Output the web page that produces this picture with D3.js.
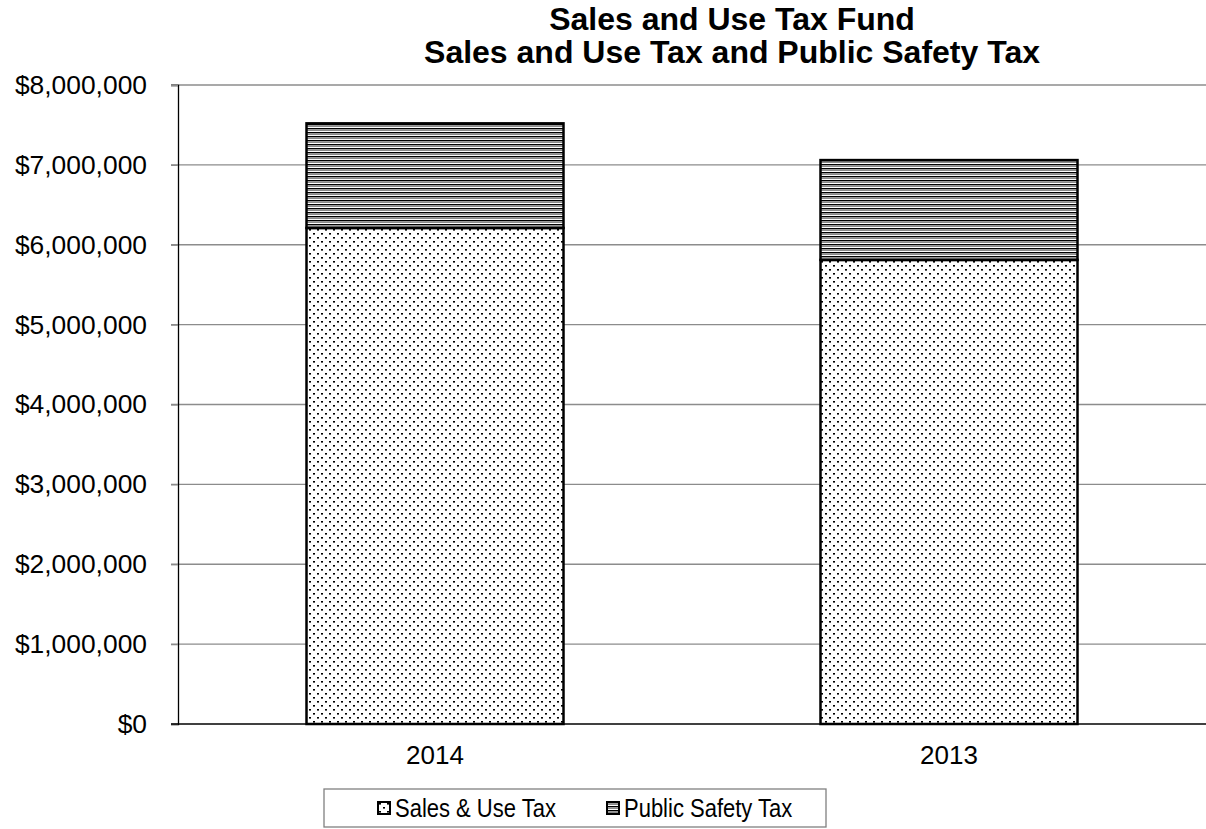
<!DOCTYPE html>
<html>
<head>
<meta charset="utf-8">
<script src="https://cdn.jsdelivr.net/npm/d3@7"></script>
<style>
  html, body { margin: 0; padding: 0; background: #fff; }
  svg { display: block; font-family: "Liberation Sans", Arial, sans-serif; }
</style>
</head>
<body>
<svg id="chart" width="1206" height="829"></svg>
<script>
// Fiscal years and revenue by source (dollars)
const years = ["2014", "2013"];
const salesUseTax = [6210000, 5810000];
const publicSafetyTax = [1310000, 1250000];
const seriesNames = ["Sales & Use Tax", "Public Safety Tax"];
const yTicks = [0, 1000000, 2000000, 3000000, 4000000, 5000000, 6000000, 7000000, 8000000];
const titleLines = ["Sales and Use Tax Fund", "Sales and Use Tax and Public Safety Tax"];

const svg = d3.select("#chart");
const W = 1206, H = 829;
const m = { left: 178, right: 0, top: 85, bottom: 105 };
const FONT = "Liberation Sans, Arial, sans-serif";

// Fill patterns: dotted for sales tax, horizontal rules for public safety tax
const defs = svg.append("defs");
const dots = defs.append("pattern").attr("id", "pat-dots")
  .attr("patternUnits", "userSpaceOnUse").attr("width", 8).attr("height", 8);
dots.append("rect").attr("width", 8).attr("height", 8).attr("fill", "#fff");
dots.append("rect").attr("x", 1).attr("y", 1).attr("width", 2).attr("height", 1.6).attr("fill", "#000");
dots.append("rect").attr("x", 5).attr("y", 5).attr("width", 2).attr("height", 1.6).attr("fill", "#000");

const lines = defs.append("pattern").attr("id", "pat-lines")
  .attr("patternUnits", "userSpaceOnUse").attr("width", 8).attr("height", 4);
lines.append("rect").attr("width", 8).attr("height", 4).attr("fill", "#fff");
lines.append("rect").attr("y", 0).attr("width", 8).attr("height", 1.4).attr("fill", "#000");
lines.append("rect").attr("y", 2).attr("width", 8).attr("height", 1).attr("fill", "#8a8a8a");

const fills = ["url(#pat-dots)", "url(#pat-lines)"];

const x = d3.scaleBand().domain(years).range([m.left, W - m.right])
  .paddingInner(0.5).paddingOuter(0.25);
const y = d3.scaleLinear().domain([0, 8000000]).range([H - m.bottom, m.top]);

// Gridlines with outward tick stubs
svg.append("g").selectAll("line").data(yTicks.filter(d => d > 0)).join("line")
  .attr("x1", m.left - 7).attr("x2", W)
  .attr("y1", d => y(d)).attr("y2", d => y(d))
  .attr("stroke", "#8c8c8c").attr("stroke-width", 1.3);

// Y axis
const yAxis = svg.append("g").attr("transform", `translate(${m.left},0)`)
  .call(d3.axisLeft(y).tickValues(yTicks).tickSize(7).tickPadding(24)
    .tickFormat(d => "$" + d3.format(",")(d)));
yAxis.select(".domain").attr("stroke", "#000").attr("stroke-width", 1.3);
yAxis.selectAll(".tick line").attr("stroke", "#8c8c8c").attr("stroke-width", 1.3);
yAxis.selectAll(".tick text").attr("font-size", 26.4).attr("fill", "#000")
  .attr("font-family", FONT);

// Stacked bars
const rows = years.map((yr, i) => ({ year: yr, [seriesNames[0]]: salesUseTax[i], [seriesNames[1]]: publicSafetyTax[i] }));
const stacked = d3.stack().keys(seriesNames)(rows);
svg.append("g").selectAll("g").data(stacked).join("g")
  .attr("fill", (d, i) => fills[i])
  .selectAll("rect").data(d => d).join("rect")
  .attr("x", d => x(d.data.year))
  .attr("width", x.bandwidth())
  .attr("y", d => y(d[1]))
  .attr("height", d => y(d[0]) - y(d[1]))
  .attr("stroke", "#000").attr("stroke-width", 2.5);

// X axis
const xAxis = svg.append("g").attr("transform", `translate(0,${y(0)})`)
  .call(d3.axisBottom(x).tickSize(0).tickPadding(22));
xAxis.select(".domain").attr("d", `M${m.left - 7},0H${W}`).attr("stroke", "#000").attr("stroke-width", 1.5);
xAxis.selectAll(".tick text").attr("font-size", 26).attr("fill", "#000")
  .attr("font-family", FONT);

// Title
svg.append("text").attr("text-anchor", "middle")
  .attr("font-size", 32).attr("font-weight", "bold").attr("fill", "#000")
  .selectAll("tspan").data(titleLines).join("tspan")
  .attr("x", 732).attr("y", (d, i) => 30 + i * 33).text(d => d);

// Legend
const lg = svg.append("g");
lg.append("rect").attr("x", 324).attr("y", 789).attr("width", 502).attr("height", 38)
  .attr("fill", "#fff").attr("stroke", "#808080").attr("stroke-width", 1.3);
const legendX = [378, 607];
const items = lg.selectAll("g.item").data(seriesNames).join("g").attr("class", "item")
  .attr("transform", (d, i) => `translate(${legendX[i]},802)`);
items.append("rect").attr("width", 12).attr("height", 12)
  .attr("fill", (d, i) => fills[i]).attr("stroke", "#000").attr("stroke-width", 2);
items.append("text").attr("transform", "translate(17,15) scale(0.88,1)")
  .attr("font-size", 25).attr("fill", "#000")
  .text(d => d);
</script>
</body>
</html>
